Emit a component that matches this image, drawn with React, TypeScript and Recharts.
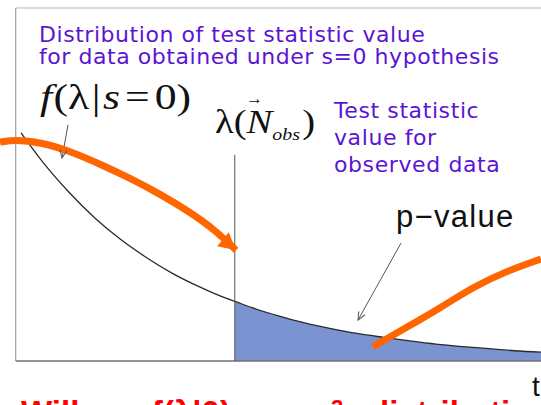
import React from 'react';
import { ComposedChart, Line, Area, XAxis, YAxis, ReferenceLine } from 'recharts';

// test statistic λ on x, density f(λ|s=0) on y
const LAMBDA = [0.1, 0.5, 1, 1.5, 2, 2.5, 3, 3.5, 4, 4.17, 4.5, 5, 5.5, 6, 6.5, 7, 7.5, 8, 8.5, 9, 9.5, 10];
const DENSITY = [0.646, 0.566, 0.48, 0.406, 0.344, 0.292, 0.247, 0.21, 0.178, 0.169, 0.151, 0.128, 0.108, 0.092, 0.078, 0.067, 0.057, 0.048, 0.041, 0.035, 0.029, 0.025];
const LAMBDA_OBS = 4.17;
const OBS_LINE_TOP = 0.584;

// orange hand-drawn arrows
const ARROW1_X = [-0.3, -0.014, 0.462, 1.033, 1.604, 2.175, 2.746, 3.317, 3.793, 4.193];
const ARROW1_Y = [0.62, 0.627, 0.62, 0.595, 0.558, 0.518, 0.473, 0.422, 0.371, 0.314];
const ARROW2_X = [6.8, 7.45, 8.08, 8.71, 9.35, 10.0];
const ARROW2_Y = [0.04, 0.096, 0.15, 0.21, 0.255, 0.289];

// thin label pointers
const POINTER1_X = [0.995, 0.88];
const POINTER1_Y = [0.669, 0.575];
const POINTER2_X = [7.335, 6.516];
const POINTER2_Y = [0.334, 0.116];

const PURPLE = '#5b14d4';
const ORANGE = '#ff6600';
const SHADE = '#7b93d1';

const curveData = LAMBDA.map((x, i) => ({
  x,
  f: DENSITY[i],
  tail: x >= LAMBDA_OBS ? DENSITY[i] : null,
}));

const toPts = (xs: number[], ys: number[]) => xs.map((x, i) => ({ x, y: ys[i] }));

const arrow1 = toPts(ARROW1_X, ARROW1_Y);
const arrow2 = toPts(ARROW2_X, ARROW2_Y);
const pointer1 = toPts(POINTER1_X, POINTER1_Y);
const pointer2 = toPts(POINTER2_X, POINTER2_Y);

// arrowhead drawn on the last point of a line
const filledHead = (last: number, angle: number) => (props: any) => {
  const { cx, cy, index } = props;
  if (index !== last) return <g key={`fh-${index}`} />;
  return (
    <polygon
      key={`fh-${index}`}
      points="0,0 -17,-9 -17,9"
      fill={ORANGE}
      transform={`translate(${cx},${cy}) rotate(${angle})`}
    />
  );
};

const openHead = (last: number, angle: number) => (props: any) => {
  const { cx, cy, index } = props;
  if (index !== last) return <g key={`oh-${index}`} />;
  return (
    <path
      key={`oh-${index}`}
      d="M-8,-3.5 L0,0 L-8,3.5"
      fill="none"
      stroke="#555"
      strokeWidth={1}
      transform={`translate(${cx},${cy}) rotate(${angle})`}
    />
  );
};

const serif = '"Liberation Serif", "Times New Roman", serif';
const verdana = '"DejaVu Sans", Verdana, sans-serif';
const sans = '"Liberation Sans", Arial, sans-serif';

export default function App() {
  return (
    <div style={{ position: 'fixed', left: 0, top: 0, width: 541, height: 405, overflow: 'hidden', background: '#fff' }}>
      <ComposedChart width={541} height={405} data={curveData} margin={{ top: 8, right: 0, bottom: 44, left: 0 }}>
        <XAxis type="number" dataKey="x" domain={[-0.3, 10]} allowDataOverflow hide />
        <YAxis type="number" domain={[0, 1]} allowDataOverflow hide />
        <Area dataKey="tail" type="monotone" fill={SHADE} fillOpacity={1} stroke="none" isAnimationActive={false} />
        <Line dataKey="f" type="monotone" stroke="#2a2a2a" strokeWidth={1.3} dot={false} isAnimationActive={false} />
        <ReferenceLine x={0} stroke="#8a8a8a" strokeWidth={1} />
        <ReferenceLine segment={[{ x: 0, y: 1 }, { x: 10, y: 1 }]} stroke="#cfcfcf" strokeWidth={1.5} />
        <ReferenceLine segment={[{ x: 0, y: 0 }, { x: 10, y: 0 }]} stroke="#707070" strokeWidth={1.5} />
        <ReferenceLine
          segment={[{ x: LAMBDA_OBS, y: 0 }, { x: LAMBDA_OBS, y: OBS_LINE_TOP }]}
          stroke="#555"
          strokeWidth={1}
        />
        <Line data={pointer1} dataKey="y" type="linear" stroke="#555" strokeWidth={1} dot={openHead(1, 100)} isAnimationActive={false} />
        <Line data={pointer2} dataKey="y" type="linear" stroke="#555" strokeWidth={1} dot={openHead(1, 119)} isAnimationActive={false} />
        <Line data={arrow1} dataKey="y" type="basis" stroke={ORANGE} strokeWidth={7} dot={filledHead(arrow1.length - 1, 40)} isAnimationActive={false} />
        <Line data={arrow2} dataKey="y" type="basis" stroke={ORANGE} strokeWidth={7} dot={false} isAnimationActive={false} />
      </ComposedChart>

      <svg width={541} height={405} style={{ position: 'absolute', left: 0, top: 0, pointerEvents: 'none' }}>
        <text x={39} y={42} fill={PURPLE} fontFamily={verdana} fontSize={22} letterSpacing={0.55}>Distribution of test statistic value</text>
        <text x={39} y={64} fill={PURPLE} fontFamily={verdana} fontSize={22} letterSpacing={0.55}>for data obtained under s=0 hypothesis</text>

        {/* the slide's math is a bit wider than plain Times, so stretch it */}
        <text transform="translate(40,109) scale(1.25,1)" fill="#111" fontFamily={serif} fontSize={35}>
          <tspan fontStyle="italic">f</tspan>
          <tspan dx={1}>(</tspan>
          <tspan>λ</tspan>
          <tspan dx={2}>|</tspan>
          <tspan dx={2} fontStyle="italic">s</tspan>
          <tspan dx={4}>=</tspan>
          <tspan dx={4}>0</tspan>
          <tspan>)</tspan>
        </text>

        <text transform="translate(215,133) scale(1.17,1)" fill="#111" fontFamily={serif} fontSize={33}>
          <tspan>λ</tspan>
          <tspan>(</tspan>
          <tspan fontStyle="italic">N</tspan>
          <tspan fontSize={17} fontStyle="italic" dy={7}>obs</tspan>
          <tspan dy={-7} dx={2}>)</tspan>
        </text>
        <text x={246} y={104} fill="#111" fontFamily={serif} fontSize={17}>→</text>

        <text x={334} y={118} fill={PURPLE} fontFamily={verdana} fontSize={22} letterSpacing={0.6}>Test statistic</text>
        <text x={334} y={145} fill={PURPLE} fontFamily={verdana} fontSize={22} letterSpacing={0.6}>value for</text>
        <text x={334} y={172} fill={PURPLE} fontFamily={verdana} fontSize={22} letterSpacing={0.6}>observed data</text>

        <text x={396} y={227} fill="#111" fontFamily={sans} fontSize={31} letterSpacing={1.3}>p−value</text>

        <text x={532} y={396} fill="#111" fontFamily={sans} fontSize={28}>t</text>

        <text y={424} fill="#ff0000" fontFamily={sans} fontSize={33} fontWeight="bold">
          <tspan x={21}>Will</tspan>
          <tspan x={152}>f(λ|0)</tspan>
          <tspan x={270}>~</tspan>
          <tspan x={300}>χ</tspan>
          <tspan x={331} y={415} fontSize={22}>2</tspan>
          <tspan x={369} y={424}>distribution</tspan>
        </text>
      </svg>
    </div>
  );
}
